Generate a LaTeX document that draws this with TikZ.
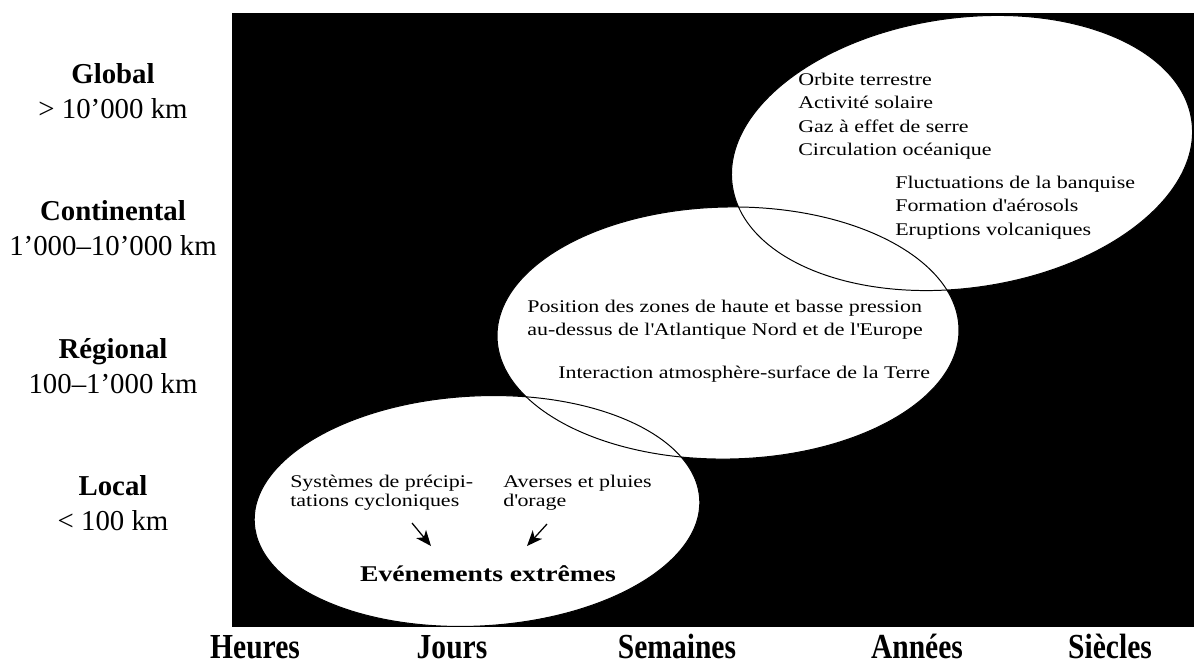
\documentclass[tikz,border=0pt]{standalone}
\usepackage{fontspec}
\setmainfont{Liberation Serif}
\newfontfamily\slabfont[FakeStretch=1.23]{Liberation Serif}
\newfontfamily\narrowfont[FakeStretch=0.84]{Liberation Serif}
\usetikzlibrary{arrows.meta}
\tikzstyle{scalename}=[anchor=base,font=\fontsize{20.5}{24}\selectfont\bfseries,inner sep=0pt]
\tikzstyle{scalerange}=[anchor=base,font=\fontsize{20.5}{24}\selectfont,inner sep=0pt]
\tikzstyle{timename}=[anchor=base,font=\narrowfont\fontsize{25}{29}\selectfont\bfseries,inner sep=0pt]
\tikzstyle{factor}=[anchor=base west,font=\slabfont\fontsize{12.7}{16}\selectfont,inner sep=0pt]
\tikzstyle{bubble}=[fill=white]
\tikzstyle{rim}=[draw=black,line width=0.7pt]
\tikzstyle{pointer}=[draw,line width=0.9pt,-{Stealth[length=11pt,width=9pt,inset=3pt]}]

\begin{document}
\begin{tikzpicture}[x=0.025cm,y=-0.025cm]
    \useasboundingbox (0,0) rectangle (1194,666);
    % black field
    \fill[black] (232,13) rectangle (1194,627);
    % the three bubbles, filled first and then outlined
    \foreach \cx/\cy/\rx/\ry/\ang in {962/153/232/135/8, 728/333/231/126/1, 477/511/223/115/3}
        \path[bubble,rotate around={\ang:(\cx,\cy)}] (\cx,\cy) ellipse [x radius=\rx, y radius=\ry];
    \foreach \cx/\cy/\rx/\ry/\ang in {962/153/232/135/8, 728/333/231/126/1, 477/511/223/115/3}
        \path[rim,rotate around={\ang:(\cx,\cy)}] (\cx,\cy) ellipse [x radius=\rx, y radius=\ry];

    % spatial scales on the left
    \foreach \name/\lab/\range/\y in {global/Global/{> 10’000 km}/83,
                                     contin/Continental/{1’000–10’000 km}/220,
                                     region/Régional/{100–1’000 km}/358,
                                     local/Local/{< 100 km}/495}
    {
        \node[scalename] (\name) at (113,\y) {\lab};
        \node[scalerange] (\name-km) at (113,\y+35) {\range};
    }
    % time scales at the bottom
    \foreach \name/\lab/\x in {hours/Heures/255, days/Jours/452, weeks/Semaines/677,
                               years/Années/917, centuries/Siècles/1110}
        \node[timename] (\name) at (\x,658) {\lab};

    % factors inside the bubbles
    \foreach \name/\x/\y/\txt in {orbit/798/85/Orbite terrestre,
                                 solar/798/108.6/Activité solaire,
                                 gas/798/132.2/Gaz à effet de serre,
                                 ocean/798/155.8/Circulation océanique,
                                 seaice/895/188/Fluctuations de la banquise,
                                 aerosol/895/211.5/Formation d\textquotesingle aérosols,
                                 volcano/895/235/Eruptions volcaniques,
                                 pressure/527/312/Position des zones de haute et basse pression,
                                 atlantic/527/335/au-dessus de l\textquotesingle Atlantique Nord et de l\textquotesingle Europe,
                                 landair/558/378/Interaction atmosphère-surface de la Terre,
                                 precip/290/487/Systèmes de précipi-,
                                 precipb/290/506/tations cycloniques,
                                 showers/503/487/Averses et pluies,
                                 showersb/503/506/d\textquotesingle orage}
        \node[factor] (\name) at (\x,\y) {\txt};
    \node[anchor=base,inner sep=0pt,font=\slabfont\fontsize{16}{19}\selectfont\bfseries] (extreme) at (488,581) {Evénements extrêmes};

    % arrows towards the extreme events
    \coordinate (precip-start) at (412,523);
    \coordinate (precip-end) at (431,546);
    \coordinate (showers-start) at (547,524);
    \coordinate (showers-end) at (527,546);
    \path[pointer] (precip-start) -- (precip-end);
    \path[pointer] (showers-start) -- (showers-end);
\end{tikzpicture}
\end{document}
